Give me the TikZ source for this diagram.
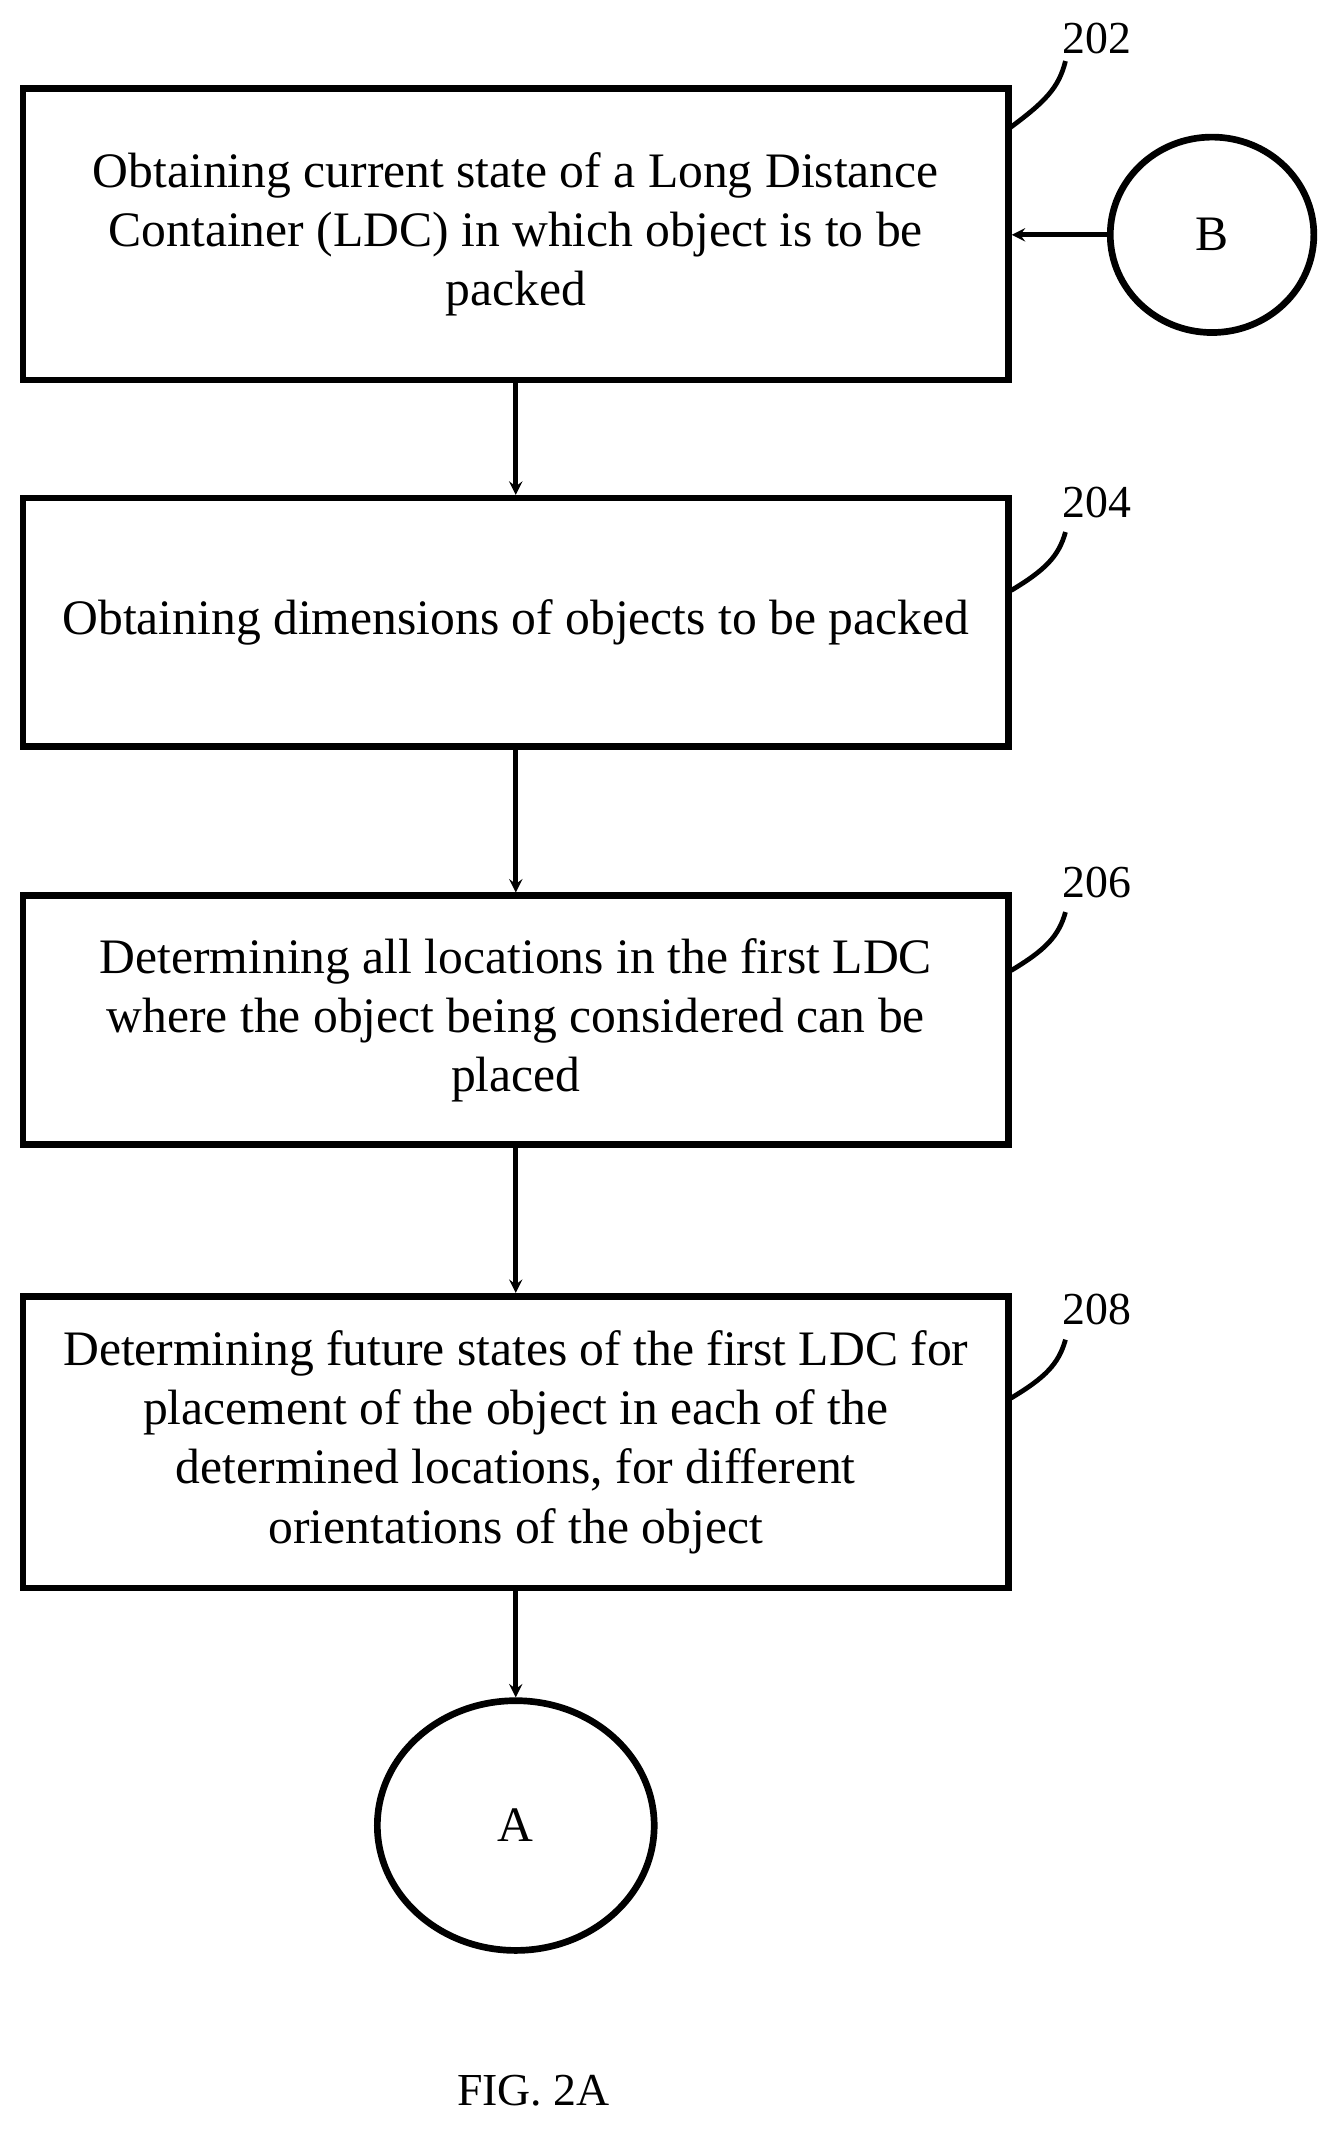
\documentclass[tikz,border=0pt]{standalone}
\usepackage{fontspec}
\setmainfont{Liberation Serif}
\usetikzlibrary{arrows,shapes.geometric,positioning}
\tikzstyle{stepbox}=[rectangle, draw, line width=7pt, minimum width=36.3cm,
                    align=center, inner xsep=0pt, font=\fontsize{52}{62}\selectfont]
\tikzstyle{conn}  =[ellipse, draw, line width=7pt, font=\fontsize{52}{60}\selectfont]
\tikzstyle{flow}  =[->, >=stealth, line width=5pt]
\tikzstyle{tag}   =[inner sep=1pt, font=\fontsize{48}{56}\selectfont]
\tikzstyle{lead}  =[line width=5pt]

\begin{document}
\begin{tikzpicture}[x=0.05cm, y=-0.05cm]
            \useasboundingbox (0,0) rectangle (990,1573);
            \node (s1) [stepbox, minimum height=10.75cm] at (380,172.5)
                {Obtaining current state of a Long Distance\\Container (LDC) in which object is to be\\packed};
            \node (s2) [stepbox, minimum height=9.15cm] at (380,458.5)
                {Obtaining dimensions of objects to be packed};
            \node (s3) [stepbox, minimum height=9.15cm] at (380,751.5)
                {Determining all locations in the first LDC\\where the object being considered can be\\placed};
            \node (s4) [stepbox, minimum height=10.75cm] at (380,1062.5)
                {Determining future states of the first LDC for\\placement of the object in each of the\\determined locations, for different\\orientations of the object};
            \node (A) [conn, minimum width=10.2cm, minimum height=9.2cm] at (380,1345) {A};
            \node (B) [conn, minimum width=7.5cm, minimum height=7.2cm] at (893,173) {B};
            \draw [flow] (s1) to (s2);
            \draw [flow] (s2) to (s3);
            \draw [flow] (s3) to (s4);
            \draw [flow] (s4) to (A);
            \draw [flow] (B) to (s1.east |- B);

            % reference numbers
            \node (t1) [tag] at (808,28) {202};
            \node (t2) [tag] at (808,370) {204};
            \node (t3) [tag] at (808,650) {206};
            \node (t4) [tag] at (808,965) {208};
            \draw [lead] (743,95) .. controls (770,75) and (780,65) .. (785,45);
            \draw [lead] (745,435) .. controls (770,420) and (780,410) .. (785,392);
            \draw [lead] (745,715) .. controls (770,700) and (780,690) .. (785,672);
            \draw [lead] (745,1030) .. controls (770,1015) and (780,1005) .. (785,987);

            \node (fig) [tag] at (393,1540) {FIG. 2A};
        \end{tikzpicture}
\end{document}
